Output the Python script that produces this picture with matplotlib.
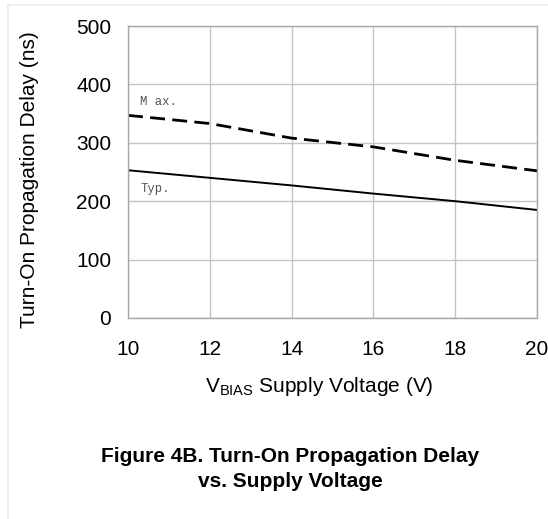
import matplotlib
matplotlib.use("Agg")
import matplotlib.pyplot as plt
from matplotlib.lines import Line2D

# data
vbias = [10, 12, 14, 16, 18, 20]
delay_typ = [253, 240, 227, 213, 200, 185]
delay_max = [347, 333, 308, 293, 270, 252]

xticks = [10, 12, 14, 16, 18, 20]
yticks = [0, 100, 200, 300, 400, 500]

plt.rcParams['font.family'] = ['Liberation Sans', 'DejaVu Sans']

fig = plt.figure(figsize=(5.48, 5.19), dpi=100)
ax = fig.add_axes([0.2336, 0.3873, 0.7464, 0.5626])

ax.plot(vbias, delay_typ, color='black', lw=1.4, solid_capstyle='butt')
ax.plot(vbias, delay_max, color='black', lw=2.0, dashes=(5.4, 2.6), dash_capstyle='butt')

ax.set_xlim(10, 20)
ax.set_ylim(0, 500)
ax.set_xticks(xticks)
ax.set_yticks(yticks)
ax.grid(True, color='#c4c4c4', lw=1.0)
ax.set_axisbelow(True)
for s in ax.spines.values():
    s.set_color('#a8a8a8')
    s.set_linewidth(1.0)
ax.tick_params(length=0, labelsize=15)
ax.tick_params(axis='x', pad=16)
ax.tick_params(axis='y', pad=12)

ax.text(10.3, 365, 'M ax.', family='Liberation Mono', fontsize=8.8, color='#555555')
ax.text(10.3, 215, 'Typ.', family='Liberation Mono', fontsize=8.8, color='#555555')

ax.set_xlabel(r'V$_{\mathregular{BIAS}}$ Supply Voltage (V)', fontsize=15)
ax.xaxis.set_label_coords(0.467, -0.233)
ax.xaxis.label.set_va('center')
ax.set_ylabel('Turn-On Propagation Delay (ns)', fontsize=15)
ax.yaxis.set_label_coords(-0.24, 0.475)
ax.yaxis.label.set_va('center')

fig.text(0.529, 0.0963, 'Figure 4B. Turn-On Propagation Delay\nvs. Supply Voltage',
         ha='center', va='center', fontsize=15, fontweight='bold', linespacing=1.4)

# faint page border lines
fig.add_artist(Line2D([8/548, 1], [1-5/519, 1-5/519], color='#ececec', lw=1.2, transform=fig.transFigure))
fig.add_artist(Line2D([8/548, 8/548], [0, 1-5/519], color='#ececec', lw=1.2, transform=fig.transFigure))

fig.savefig('out.png', dpi=100)
